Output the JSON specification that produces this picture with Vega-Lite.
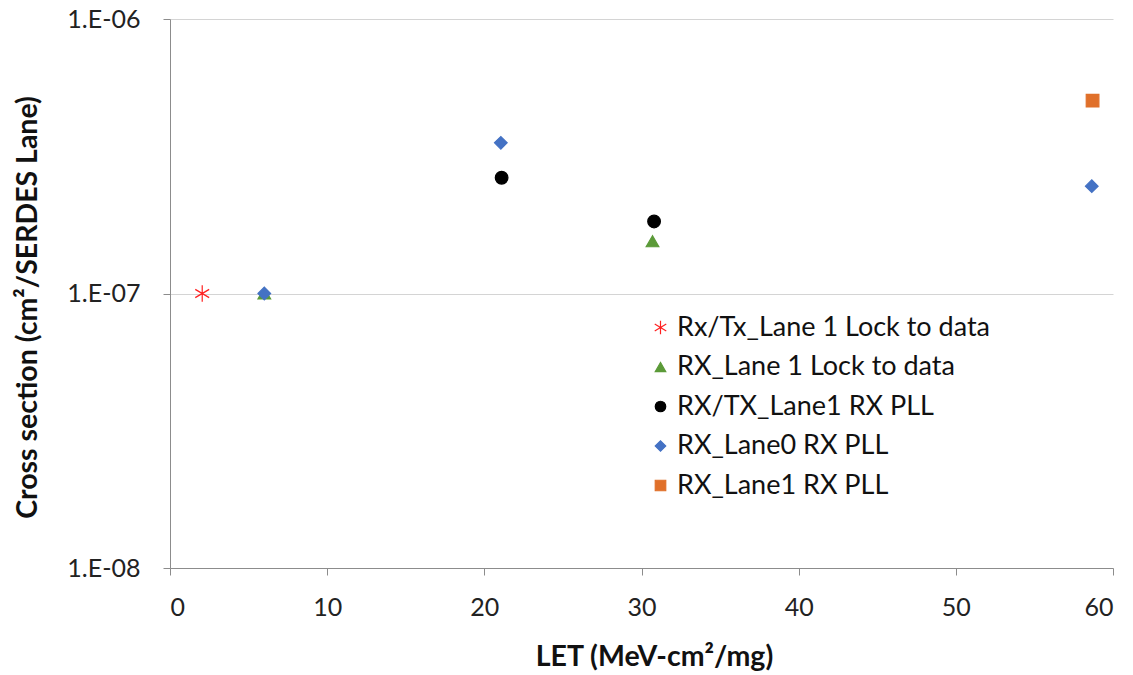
{
  "$schema": "https://vega.github.io/schema/vega-lite/v6.json",
  "autosize": "none",
  "width": 943,
  "height": 549,
  "padding": {"left": 170, "top": 19, "right": 20, "bottom": 107},
  "background": "white",
  "config": {
    "view": {"stroke": null},
    "font": "Lato",
    "legend": {
      "title": null,
      "orient": "none",
      "legendX": 477,
      "legendY": 295,
      "labelFontSize": 27,
      "labelColor": "#111111",
      "labelFont": "Lato",
      "symbolSize": 110,
      "symbolStrokeWidth": 1.2,
      "rowPadding": 11.5,
      "labelOffset": 3,
      "labelLimit": 600
    }
  },
  "data": {
    "values": [
      {"series": "Rx/Tx_Lane 1 Lock to data", "LET": 2.05, "cs": 1.0e-7},
      {"series": "RX_Lane 1 Lock to data", "LET": 6.0, "cs": 1.0e-7},
      {"series": "RX_Lane 1 Lock to data", "LET": 30.7, "cs": 1.55e-7},
      {"series": "RX/TX_Lane1 RX PLL", "LET": 21.1, "cs": 2.64e-7},
      {"series": "RX/TX_Lane1 RX PLL", "LET": 30.8, "cs": 1.83e-7},
      {"series": "RX_Lane0 RX PLL", "LET": 6.0, "cs": 1.0e-7},
      {"series": "RX_Lane0 RX PLL", "LET": 21.05, "cs": 3.54e-7},
      {"series": "RX_Lane0 RX PLL", "LET": 58.65, "cs": 2.46e-7},
      {"series": "RX_Lane1 RX PLL", "LET": 58.7, "cs": 5.04e-7}
    ]
  },
  "mark": {"type": "point", "filled": true, "size": 160, "strokeWidth": 1.2, "opacity": 1},
  "encoding": {
    "x": {
      "field": "LET",
      "type": "quantitative",
      "scale": {"domain": [0, 60], "nice": false, "zero": false},
      "axis": {
        "values": [0, 10, 20, 30, 40, 50, 60],
        "title": "LET (MeV-cm²/mg)",
        "grid": false,
        "domainColor": "#8c8c8c",
        "tickColor": "#8c8c8c",
        "tickSize": 7,
        "labelFontSize": 25,
        "labelColor": "#222222",
        "labelPadding": 20,
        "titleFontSize": 28.5,
        "titleFontWeight": "bold",
        "titleColor": "#111111",
        "titlePadding": 22,
        "titleX": 484,
        "labelFont": "Lato",
        "titleFont": "Lato"
      }
    },
    "y": {
      "field": "cs",
      "type": "quantitative",
      "scale": {"type": "log", "domain": [1e-8, 1e-6], "nice": false},
      "axis": {
        "values": [1e-8, 1e-7, 1e-6],
        "labelExpr": "datum.value >= 9e-7 ? '1.E-06' : datum.value >= 9e-8 ? '1.E-07' : '1.E-08'",
        "title": "Cross section (cm²/SERDES Lane)",
        "grid": true,
        "gridColor": "#d4d4d4",
        "gridWidth": 1,
        "domainColor": "#8c8c8c",
        "tickColor": "#8c8c8c",
        "tickSize": 7,
        "labelFontSize": 25,
        "labelColor": "#222222",
        "labelPadding": 23,
        "titleFontSize": 28.5,
        "titleFontWeight": "bold",
        "titleColor": "#111111",
        "titlePadding": 24,
        "titleY": 288,
        "labelFont": "Lato",
        "titleFont": "Lato"
      }
    },
    "shape": {
      "field": "series",
      "type": "nominal",
      "scale": {
        "domain": ["Rx/Tx_Lane 1 Lock to data", "RX_Lane 1 Lock to data", "RX/TX_Lane1 RX PLL", "RX_Lane0 RX PLL", "RX_Lane1 RX PLL"],
        "range": ["M0,-1.3L0,1.3M-1.1,-0.65L1.1,0.65M-1.1,0.65L1.1,-0.65", "triangle-up", "circle", "diamond", "square"]
      }
    },
    "color": {
      "field": "series",
      "type": "nominal",
      "scale": {
        "domain": ["Rx/Tx_Lane 1 Lock to data", "RX_Lane 1 Lock to data", "RX/TX_Lane1 RX PLL", "RX_Lane0 RX PLL", "RX_Lane1 RX PLL"],
        "range": ["#ff2020", "#5b9a38", "#000000", "#4472c4", "#e0702a"]
      }
    },
    "stroke": {
      "field": "series",
      "type": "nominal",
      "scale": {
        "domain": ["Rx/Tx_Lane 1 Lock to data", "RX_Lane 1 Lock to data", "RX/TX_Lane1 RX PLL", "RX_Lane0 RX PLL", "RX_Lane1 RX PLL"],
        "range": ["#ff2020", "#5b9a38", "#000000", "#4472c4", "#e0702a"]
      }
    }
  }
}
